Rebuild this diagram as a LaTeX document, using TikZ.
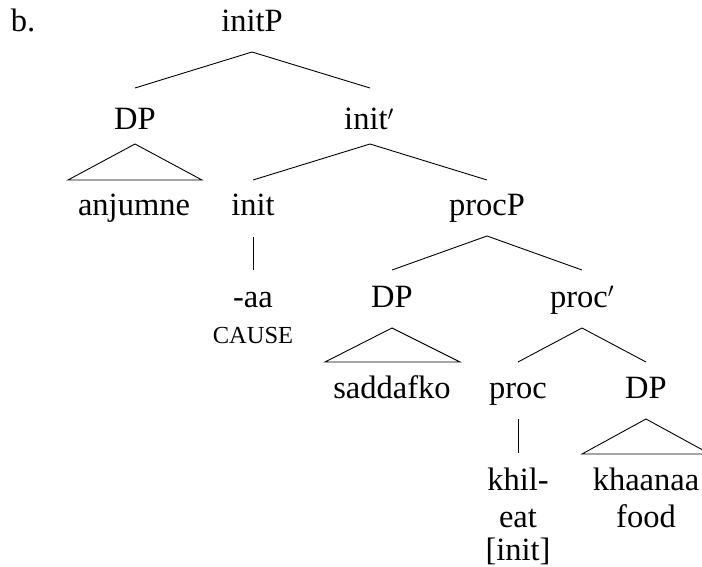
\documentclass[tikz,border=0pt]{standalone}
\usepackage{fontspec}
\setmainfont{Liberation Serif}
\begin{document}
\begin{tikzpicture}[x=1pt,y=-1pt,
  lbl/.style={anchor=base,inner sep=0pt,font=\fontsize{32.5}{36}\selectfont},
  smallcap/.style={anchor=base,inner sep=0pt,font=\fontsize{24.5}{28}\selectfont},
  br/.style={line width=0.9pt,line join=miter}]
\useasboundingbox (0,0) rectangle (702,567);
% labels
\node[lbl] (b) at (23,32) {b.};
\node[lbl] (initP) at (252,32) {initP};
\node[lbl] (dpA) at (135,130) {DP};
\node[lbl] (initbar) at (369,130) {init$'$};
\node[lbl] (anj) at (134,215) {anjumne};
\node[lbl] (init) at (253,215) {init};
\node[lbl] (procP) at (487,215) {procP};
\node[lbl] (aa) at (253,307) {-aa};
\node[smallcap] (cause) at (253,343) {CAUSE};
\node[lbl] (dpB) at (392,307) {DP};
\node[lbl] (procbar) at (582,307) {proc$'$};
\node[lbl] (sadd) at (392,398) {saddafko};
\node[lbl] (proc) at (518,398) {proc};
\node[lbl] (dpC) at (646,398) {DP};
\node[lbl] (khil) at (518,490) {khil-};
\node[lbl] (eat) at (518,527) {eat};
\node[lbl] (initf) at (518,560) {[init]};
\node[lbl] (khaa) at (646,490) {khaanaa};
\node[lbl] (food) at (646,527) {food};
% branches
\draw[br] ([yshift=-20pt]initP.base) -- ([yshift=42pt]dpA.base);
\draw[br] ([yshift=-20pt]initP.base) -- ([xshift=1pt,yshift=42pt]initbar.base);
\draw[br] ([yshift=-14pt]dpA.base) -- ([xshift=-67pt,yshift=35pt]dpA.base |- anj.base)
  -- ([xshift=67pt,yshift=35pt]dpA.base |- anj.base) -- cycle;
\draw[br] ([xshift=1pt,yshift=-14pt]initbar.base) -- ([yshift=35pt]init.base);
\draw[br] ([xshift=1pt,yshift=-14pt]initbar.base) -- ([yshift=35pt]procP.base);
\draw[br] ([yshift=-22pt]init.base) -- ([yshift=37pt]aa.base);
\draw[br] ([yshift=-21pt]procP.base) -- ([yshift=37pt]dpB.base);
\draw[br] ([yshift=-21pt]procP.base) -- ([yshift=37pt]procbar.base);
\draw[br] ([yshift=-21pt]dpB.base) -- ([xshift=-67pt,yshift=36pt]sadd.base)
  -- ([xshift=68pt,yshift=36pt]sadd.base) -- cycle;
\draw[br] ([yshift=-21pt]procbar.base) -- ([yshift=36pt]proc.base);
\draw[br] ([yshift=-21pt]procbar.base) -- ([yshift=36pt]dpC.base);
\draw[br] ([yshift=-21pt]proc.base) -- ([yshift=37pt]khil.base);
\draw[br] ([yshift=-21pt]dpC.base) -- ([xshift=-64pt,yshift=36pt]khaa.base)
  -- ([xshift=64pt,yshift=36pt]khaa.base) -- cycle;
\end{tikzpicture}
\end{document}
